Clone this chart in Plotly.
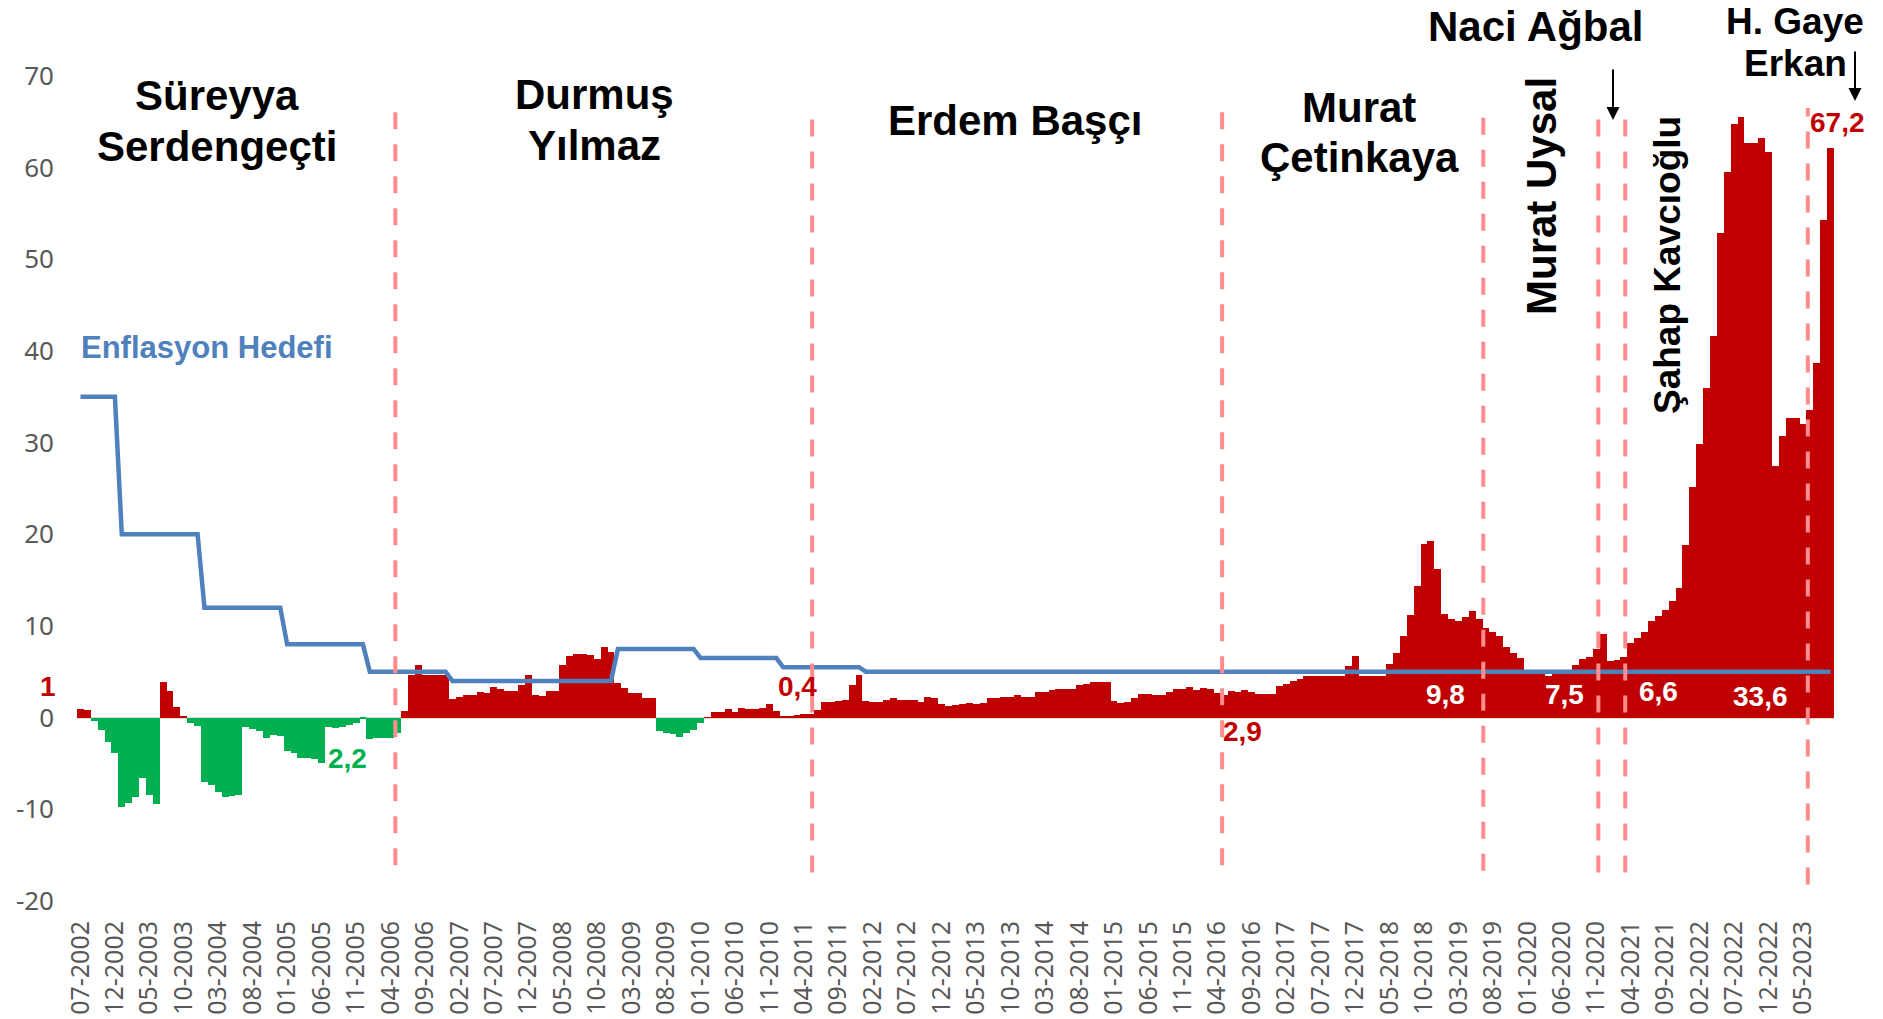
import plotly.graph_objects as go

# ---------------- DATA ----------------
START_YEAR, START_MONTH = 2002, 7

# monthly bar values (07-2002 ... 09-2023)
bar_values = [
    1.0, 0.8, -0.4, -1.35, -2.6, -3.8, -9.7, -9.3, -8.7, -6.6, -8.4, -9.4,      # 07-2002..06-2003
    3.9, 2.95, 1.15, 0.1, -0.6, -0.9, -7.0, -7.3, -8.1, -8.6, -8.5, -8.4,        # 07-2003..06-2004
    -1.0, -1.2, -1.4, -2.25, -1.9, -2.0, -3.6, -3.9, -4.4, -4.4, -4.5, -4.9,     # 07-2004..06-2005
    -1.0, -1.1, -1.0, -0.8, -0.6, -0.1, -2.3, -2.25, -2.2, -2.2, -1.7, 0.7,      # 07-2005..06-2006
    4.65, 5.7, 4.65, 4.65, 4.65, 4.65, 2.05, 2.25, 2.45, 2.5, 2.8, 2.7,          # 07-2006..06-2007
    3.4, 3.1, 2.95, 2.95, 3.6, 4.65, 2.5, 2.4, 2.95, 2.95, 5.7, 6.7,            # 07-2007..06-2008
    6.9, 7.0, 6.8, 6.4, 7.75, 7.2, 3.8, 3.2, 2.7, 2.65, 2.1, 2.1,               # 07-2008..06-2009
    -1.45, -1.7, -1.8, -2.15, -1.7, -1.35, -0.6, 0.05, 0.65, 0.65, 0.95, 0.65,  # 07-2009..06-2010
    1.1, 0.9, 0.95, 1.1, 1.5, 0.75, 0.1, 0.15, 0.3, 0.4, 0.45, 0.85,            # 07-2010..06-2011
    1.75, 1.75, 1.85, 1.9, 3.55, 4.7, 1.8, 1.75, 1.75, 1.9, 2.1, 1.95,          # 07-2011..06-2012
    1.9, 1.9, 1.75, 2.3, 2.2, 1.45, 1.25, 1.4, 1.5, 1.65, 1.5, 1.55,            # 07-2012..06-2013
    2.2, 2.2, 2.25, 2.25, 2.5, 2.25, 2.25, 2.8, 2.85, 3.0, 3.1, 3.15,           # 07-2013..06-2014
    3.15, 3.55, 3.65, 3.9, 3.9, 3.85, 1.8, 1.65, 1.75, 2.1, 2.55, 2.6,          # 07-2014..06-2015
    2.5, 2.5, 2.8, 3.15, 3.15, 3.35, 3.0, 3.25, 3.1, 2.7, 2.45, 2.9,            # 07-2015..06-2016
    2.75, 3.0, 2.85, 2.6, 2.6, 2.55, 3.45, 3.65, 3.95, 4.2, 4.5, 4.5,           # 07-2016..06-2017
    4.5, 4.5, 4.55, 4.55, 5.6, 6.7, 4.55, 4.5, 4.5, 4.6, 5.9, 7.1,              # 07-2017..06-2018
    8.9, 11.2, 14.4, 19.0, 19.3, 16.2, 11.3, 10.8, 10.6, 11.0, 11.6, 10.8,      # 07-2018..06-2019
    9.8, 9.4, 8.9, 7.7, 7.1, 6.5, 5.1, 5.0, 4.9, 4.6, 4.8, 5.0,                 # 07-2019..06-2020
    5.2, 5.75, 6.4, 6.6, 7.5, 9.1, 6.2, 6.3, 6.6, 8.1, 8.7, 9.3,                # 07-2020..06-2021
    10.5, 11.1, 11.8, 12.7, 14.2, 18.8, 25.2, 29.9, 36.0, 41.6, 52.9, 59.5,     # 07-2021..06-2022
    64.8, 65.5, 62.7, 62.7, 63.2, 61.7, 27.5, 30.7, 32.7, 32.7, 32.0, 33.6,     # 07-2022..06-2023
    38.7, 54.3, 62.1,                                                           # 07-2023..09-2023
]

# inflation target by calendar year
target_years = list(range(2002, 2024))
target_values = [35, 20, 12, 8, 5, 4, 4, 7.5, 6.5, 5.5, 5, 5, 5, 5, 5, 5, 5, 5, 5, 5, 5, 5]

y_ticks = [-20, -10, 0, 10, 20, 30, 40, 50, 60, 70]
y_tick_text = ["-20", "-10", "0", "10", "20", "30", "40", "50", "60", "70"]

# month labels
months = []
yy, mm = START_YEAR, START_MONTH
for _ in bar_values:
    months.append(f"{mm:02d}-{yy}")
    mm += 1
    if mm > 12:
        mm, yy = 1, yy + 1

target_map = dict(zip(target_years, target_values))
target_series = [target_map[int(m[3:])] for m in months]

RED = "#C00000"
GREEN = "#00B050"
BLUE = "#4F81BD"
DASH = "#FF8C8C"
GRAY = "#595959"

bar_colors = [RED if v >= 0 else GREEN for v in bar_values]

fig = go.Figure()
fig.add_bar(x=months, y=bar_values, marker=dict(color=bar_colors, line=dict(width=0)),
            hoverinfo="skip", showlegend=False)
fig.add_scatter(x=months, y=target_series, mode="lines",
                line=dict(color=BLUE, width=4.5), hoverinfo="skip", showlegend=False)

# ---------------- LAYOUT ----------------
W, H = 1883, 1019
PL, PR, PT, PB = 77, 1834, 76, 901


def paper(x, y):
    return (x - PL) / (PR - PL), (PB - y) / (PB - PT)


# governor change dashed lines (category position, top, bottom)
gov_lines = [(45.7, 67.0, -16.1), (106.2, 66.3, -16.9), (165.7, 67.0, -16.1),
             (203.6, 66.5, -16.7), (220.3, 66.3, -16.9), (224.2, 66.3, -16.9),
             (250.7, 66.5, -18.2)]
for gx, gy0, gy1 in gov_lines:
    fig.add_shape(type="line", xref="x", yref="y", x0=gx, x1=gx, y0=gy1, y1=gy0,
                  line=dict(color=DASH, width=4, dash="17px,15px"), layer="above")

FONT_B = "Liberation Sans, Arial, sans-serif"
annots = []


def txt(text, x, y, size, color="black", angle=0):
    px_, py_ = paper(x, y)
    annots.append(dict(text=f"<b>{text}</b>", x=px_, y=py_, xref="paper", yref="paper",
                       xanchor="center", yanchor="middle", showarrow=False, textangle=angle,
                       font=dict(family=FONT_B, size=size, color=color)))


txt("Süreyya", 217, 95, 42)
txt("Serdengeçti", 217, 146, 42)
txt("Durmuş", 594, 94, 42)
txt("Yılmaz", 594, 145, 42)
txt("Erdem Başçı", 1015, 120, 42)
txt("Murat", 1359, 107, 42)
txt("Çetinkaya", 1359, 158, 42)
txt("Naci Ağbal", 1536, 26, 42)
txt("Murat Uysal", 1541, 196, 42, angle=-90)
txt("Şahap Kavcıoğlu", 1667, 265, 37, angle=-90)
txt("H. Gaye", 1795, 21, 37)
txt("Erkan", 1795, 64, 37)
txt("Enflasyon Hedefi", 207, 347, 31, color=BLUE)

txt("1", 48, 686, 28, color=RED)
txt("2,2", 347, 758, 28, color=GREEN)
txt("0,4", 797, 686, 28, color=RED)
txt("2,9", 1242, 731, 28, color=RED)
txt("9,8", 1445, 694, 28, color="white")
txt("7,5", 1564, 694, 28, color="white")
txt("6,6", 1658, 692, 28, color="white")
txt("33,6", 1760, 696, 28, color="white")
txt("67,2", 1837, 122, 28, color=RED)

# arrows
for ax_, y_top, y_head in [(1613, 68, 120), (1855, 50, 101)]:
    hx, hy = paper(ax_, y_head)
    annots.append(dict(text="", x=hx, y=hy, xref="paper", yref="paper", showarrow=True,
                       ax=0, ay=-(y_head - y_top), axref="pixel", ayref="pixel",
                       arrowhead=2, arrowsize=1.3, arrowwidth=2, arrowcolor="black", standoff=0))

fig.update_layout(
    width=W, height=H,
    margin=dict(l=PL, r=W - PR, t=PT, b=H - PB, pad=0, autoexpand=False),
    paper_bgcolor="white", plot_bgcolor="white",
    bargap=0, showlegend=False,
    annotations=annots,
    xaxis=dict(type="category", range=[-0.5, len(months) - 0.5],
               tickmode="array", tickvals=months[::5], ticktext=months[::5],
               tickangle=-90, tickfont=dict(family="Noto Sans", size=25, color=GRAY),
               showgrid=False, showline=False, zeroline=False, ticks="",
               ticklabelstandoff=14, automargin=False),
    yaxis=dict(range=[-20, 70], tickmode="array", tickvals=y_ticks, ticktext=y_tick_text,
               tickfont=dict(family="Noto Sans", size=26, color=GRAY),
               showgrid=False, showline=False, ticks="",
               zeroline=True, zerolinecolor="#D9D9D9", zerolinewidth=2,
               ticklabelstandoff=22, automargin=False),
)

fig.write_html("out.html", config={"displayModeBar": False},
               post_script="document.body.style.margin='0';")
